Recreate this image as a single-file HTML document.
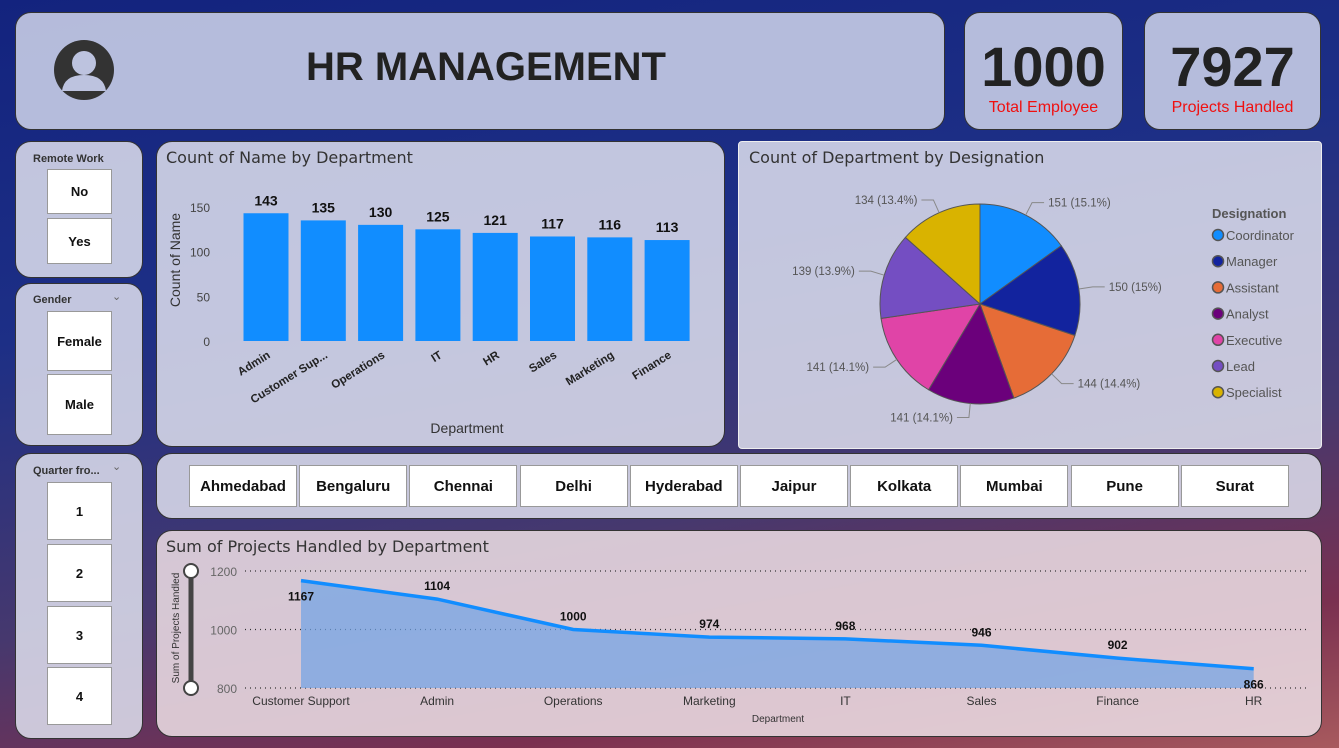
<!DOCTYPE html>
<html><head><meta charset="utf-8"><style>
*{box-sizing:border-box;margin:0;padding:0}
body{width:1339px;height:748px;overflow:hidden;font-family:"Liberation Sans",sans-serif;position:relative;
background:linear-gradient(170deg,#13237e 0%,#1d2f86 35%,#46386e 65%,#7a3050 85%,#a85a5e 100%);}
.p{position:absolute;border:1.5px solid #333;border-radius:16px;background:rgba(222,224,238,0.86)}
.btn{position:absolute;background:#fff;border:1.5px solid #999;font-weight:bold;font-size:13px;display:flex;align-items:center;justify-content:center;color:#111}
.st{position:absolute;font-size:11px;font-weight:bold;color:#333}
.t{position:absolute;font-size:16px;color:#333;font-family:"DejaVu Sans",sans-serif;}
svg{position:absolute;left:0;top:0}
</style></head><body>
<div class="p" style="left:15px;top:12px;width:930px;height:118px;background:rgba(190,196,224,0.95)">
 <svg width="130" height="118" style="left:0;top:0"><circle cx="68" cy="57" r="30" fill="#333"/><circle cx="68" cy="50" r="12" fill="#bdc3df"/><path d="M46 78 Q48 62 68 62 Q88 62 90 78 Z" fill="#bdc3df"/></svg>
 <div style="position:absolute;left:290px;top:32px;font-size:40px;font-weight:bold;color:#222">HR MANAGEMENT</div>
</div>
<div class="p" style="left:964px;top:12px;width:159px;height:118px;background:rgba(190,196,224,0.95);text-align:center">
 <div style="font-size:56px;font-weight:bold;color:#222;margin-top:22px;line-height:64px">1000</div>
 <div style="font-size:16px;color:#f01010">Total Employee</div></div>
<div class="p" style="left:1144px;top:12px;width:177px;height:118px;background:rgba(190,196,224,0.95);text-align:center">
 <div style="font-size:56px;font-weight:bold;color:#222;margin-top:22px;line-height:64px">7927</div>
 <div style="font-size:16px;color:#f01010">Projects Handled</div></div>

<div class="p" style="left:15px;top:141px;width:128px;height:137px"></div>
<div class="st" style="left:33px;top:153px">Remote Work</div>
<div class="btn" style="left:47px;top:169px;width:65px;height:45px">No</div>
<div class="btn" style="left:47px;top:218px;width:65px;height:46px">Yes</div>

<div class="p" style="left:15px;top:283px;width:128px;height:163px"></div>
<div class="st" style="left:33px;top:294px">Gender</div>
<div class="st" style="left:112px;top:290px;font-weight:normal;color:#666">⌄</div>
<div class="btn" style="left:47px;top:311px;width:65px;height:60px">Female</div>
<div class="btn" style="left:47px;top:374px;width:65px;height:61px">Male</div>

<div class="p" style="left:15px;top:453px;width:128px;height:286px"></div>
<div class="st" style="left:33px;top:465px">Quarter fro...</div>
<div class="st" style="left:112px;top:460px;font-weight:normal;color:#666">⌄</div>
<div class="btn" style="left:47px;top:482px;width:65px;height:58px">1</div>
<div class="btn" style="left:47px;top:544px;width:65px;height:58px">2</div>
<div class="btn" style="left:47px;top:606px;width:65px;height:58px">3</div>
<div class="btn" style="left:47px;top:667px;width:65px;height:58px">4</div>

<div class="p" style="left:156px;top:141px;width:569px;height:306px"></div>
<div class="t" style="left:166px;top:148px">Count of Name by Department</div>
<div class="p" style="left:738px;top:141px;width:584px;height:308px;border-radius:4px;border-color:#eee"></div>
<div class="t" style="left:749px;top:148px">Count of Department by Designation</div>

<div class="p" style="left:156px;top:453px;width:1166px;height:66px"></div>
<div id="cities"></div>

<div class="p" style="left:156px;top:530px;width:1166px;height:207px;background:rgba(234,220,226,0.88)"></div>
<div class="t" style="left:166px;top:537px">Sum of Projects Handled by Department</div>

<svg id="ch" width="1339" height="748"></svg>
<script>
const barCats=["Admin","Customer Sup...","Operations","IT","HR","Sales","Marketing","Finance"];
const barVals=[143,135,130,125,121,117,116,113];
const barTicks=[0,50,100,150];
const pieCats=["Coordinator","Manager","Assistant","Analyst","Executive","Lead","Specialist"];
const pieVals=[151,150,144,141,141,139,134];
const pieColors=["#118DFF","#12239E","#E66C37","#6B007B","#E044A7","#744EC2","#D9B300"];
const areaCats=["Customer Support","Admin","Operations","Marketing","IT","Sales","Finance","HR"];
const areaVals=[1167,1104,1000,974,968,946,902,866];
const areaTicks=[800,1000,1200];
const cities=["Ahmedabad","Bengaluru","Chennai","Delhi","Hyderabad","Jaipur","Kolkata","Mumbai","Pune","Surat"];

const NS="http://www.w3.org/2000/svg",svg=document.getElementById('ch');
function el(t,a,txt){const e=document.createElementNS(NS,t);for(const k in a)e.setAttribute(k,a[k]);if(txt!==undefined)e.textContent=txt;svg.appendChild(e);return e;}

// city buttons
const cd=document.getElementById('cities');
cities.forEach((c,i)=>{const d=document.createElement('div');d.className='btn';d.textContent=c;
d.style.cssText=`left:${189+i*110.2}px;top:465px;width:108px;height:42px;font-size:15px`;


cd.appendChild(d);});

// bar chart
const by=v=>341-v*134/150, bx=i=>266+i*57.3;
barTicks.forEach(t=>{const e=el('text',{x:210,y:by(t)+5,'text-anchor':'end','font-size':12,fill:'#444'},t);

});
barCats.forEach((c,i)=>{
 const r=el('rect',{x:bx(i)-22.5,y:by(barVals[i]),width:45,height:by(0)-by(barVals[i]),fill:'#118DFF'});
 
 
 const v=el('text',{x:bx(i),y:by(barVals[i])-8,'text-anchor':'middle','font-size':14,'font-weight':'bold',fill:'#111'},barVals[i]);
 
 
 const l=el('text',{x:bx(i)+5,y:357,'text-anchor':'end','font-size':11.5,'font-weight':'bold',fill:'#222',transform:`rotate(-32 ${bx(i)+5} 357)`},c);
 
 
});
let e=el('text',{x:180,y:260,'text-anchor':'middle','font-size':14,fill:'#333',transform:'rotate(-90 180 260)'},'Count of Name');

e=el('text',{x:467,y:433,'text-anchor':'middle','font-size':14,fill:'#333'},'Department');


// pie
const cx=980,cy=304,R=100,tot=pieVals.reduce((a,b)=>a+b,0);
let a0=-Math.PI/2;
pieVals.forEach((v,i)=>{
 const a1=a0+v/tot*2*Math.PI;
 const p=el('path',{d:`M${cx} ${cy}L${cx+R*Math.cos(a0)} ${cy+R*Math.sin(a0)}A${R} ${R} 0 0 1 ${cx+R*Math.cos(a1)} ${cy+R*Math.sin(a1)}Z`,fill:pieColors[i],stroke:'#555','stroke-width':1});
 
 
 const am=(a0+a1)/2,ca=Math.cos(am),sa=Math.sin(am);
 el('polyline',{points:`${cx+R*ca} ${cy+R*sa} ${cx+(R+14)*ca} ${cy+(R+14)*sa} ${cx+(R+14)*ca+(ca>0?12:-12)} ${cy+(R+14)*sa}`,fill:'none',stroke:'#888','stroke-width':1});
 const t=el('text',{x:cx+(R+14)*ca+(ca>0?16:-16),y:cy+(R+14)*sa+4,'text-anchor':ca>0?'start':'end','font-size':11.5,fill:'#555'},`${v} (${(v/tot*100).toFixed(1).replace('.0','')}%)`);
 
 
 a0=a1;
});
e=el('text',{x:1212,y:218,'font-size':13,'font-weight':'bold',fill:'#555'},'Designation');

pieCats.forEach((c,i)=>{const y=235+i*26.2;
 const m=el('circle',{cx:1218,cy:y,r:5.5,fill:pieColors[i],stroke:'#555','stroke-width':1.5});
 
 const t=el('text',{x:1226,y:y+5,'font-size':13,fill:'#555'},c);
 });

// area chart
const ay=v=>688-(v-800)*117/400, ax=i=>301+i*136.1;
areaTicks.forEach(t=>{el('line',{x1:245,x2:1310,y1:ay(t),y2:ay(t),stroke:'#333','stroke-dasharray':'1 4','stroke-width':1.2});
 const k=el('text',{x:237,y:ay(t)+5,'text-anchor':'end','font-size':12,fill:'#666'},t);
 });
let pts=areaVals.map((v,i)=>`${ax(i)},${ay(v)}`).join(' ');
e=el('polygon',{points:`${ax(0)},${ay(800)} ${pts} ${ax(areaVals.length-1)},${ay(800)}`,fill:'#6fa3e6','fill-opacity':0.7});

e=el('polyline',{points:pts,fill:'none',stroke:'#118DFF','stroke-width':3.5});

areaCats.forEach((c,i)=>{
 const below=(i==0||i==areaCats.length-1);
 const t=el('text',{x:ax(i),y:below?ay(areaVals[i])+20:ay(areaVals[i])-9,'text-anchor':'middle','font-size':12,'font-weight':'bold',fill:'#111'},areaVals[i]);
 
 const l=el('text',{x:ax(i),y:705,'text-anchor':'middle','font-size':12,fill:'#333'},c);
 });
e=el('text',{x:778,y:722,'text-anchor':'middle','font-size':10,fill:'#333'},'Department');

e=el('text',{x:179,y:628,'text-anchor':'middle','font-size':10,fill:'#333',transform:'rotate(-90 179 628)'},'Sum of Projects Handled');

e=el('line',{x1:191,x2:191,y1:571,y2:688,stroke:'#444','stroke-width':5});

[571,688].forEach(y=>{const h=el('circle',{cx:191,cy:y,r:7,fill:'#fff',stroke:'#444','stroke-width':2});
 });
</script>
</body></html>
